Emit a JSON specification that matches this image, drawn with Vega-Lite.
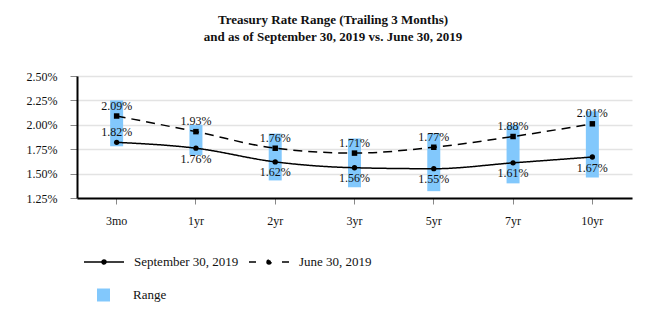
{
  "$schema": "https://vega.github.io/schema/vega-lite/v6.json",
  "autosize": "none",
  "width": 555,
  "height": 122,
  "padding": {"left": 77, "top": 76, "right": 34, "bottom": 135},
  "background": "white",
  "config": {
    "font": "Liberation Serif",
    "view": {"stroke": null},
    "axis": {"labelFont": "Liberation Serif", "labelFontSize": 12, "labelColor": "#111"},
    "legend": {"labelFont": "Liberation Serif", "labelFontSize": 13, "labelColor": "#111"}
  },
  "title": {
    "text": ["Treasury Rate Range (Trailing 3 Months)", "and as of September 30, 2019 vs. June 30, 2019"],
    "font": "Liberation Serif",
    "fontSize": 13,
    "fontWeight": "bold",
    "lineHeight": 17.5,
    "color": "#111",
    "anchor": "middle",
    "dx": -21.5,
    "offset": 26
  },
  "datasets": {
    "rates": [
      {"tenor": "3mo", "series": "September 30, 2019", "rate": 0.0182},
      {"tenor": "1yr", "series": "September 30, 2019", "rate": 0.0176},
      {"tenor": "2yr", "series": "September 30, 2019", "rate": 0.0162},
      {"tenor": "3yr", "series": "September 30, 2019", "rate": 0.0156},
      {"tenor": "5yr", "series": "September 30, 2019", "rate": 0.0155},
      {"tenor": "7yr", "series": "September 30, 2019", "rate": 0.0161},
      {"tenor": "10yr", "series": "September 30, 2019", "rate": 0.0167},
      {"tenor": "3mo", "series": "June 30, 2019", "rate": 0.0209},
      {"tenor": "1yr", "series": "June 30, 2019", "rate": 0.0193},
      {"tenor": "2yr", "series": "June 30, 2019", "rate": 0.0176},
      {"tenor": "3yr", "series": "June 30, 2019", "rate": 0.0171},
      {"tenor": "5yr", "series": "June 30, 2019", "rate": 0.0177},
      {"tenor": "7yr", "series": "June 30, 2019", "rate": 0.0188},
      {"tenor": "10yr", "series": "June 30, 2019", "rate": 0.0201}
    ],
    "range": [
      {"tenor": "3mo", "low": 0.0178, "high": 0.0225},
      {"tenor": "1yr", "low": 0.0169, "high": 0.0200},
      {"tenor": "2yr", "low": 0.0143, "high": 0.0191},
      {"tenor": "3yr", "low": 0.0136, "high": 0.0186},
      {"tenor": "5yr", "low": 0.0132, "high": 0.0191},
      {"tenor": "7yr", "low": 0.0140, "high": 0.0200},
      {"tenor": "10yr", "low": 0.0146, "high": 0.0214}
    ]
  },
  "encoding": {
    "x": {
      "field": "tenor",
      "type": "nominal",
      "scale": {"domain": ["3mo", "1yr", "2yr", "3yr", "5yr", "7yr", "10yr"], "paddingInner": 0, "paddingOuter": 0},
      "axis": {"title": null, "labelAngle": 0, "domainColor": "#000", "domainWidth": 2, "tickColor": "#888", "tickSize": 6, "labelPadding": 11, "grid": false}
    }
  },
  "layer": [
    {
      "data": {"name": "range"},
      "mark": {"type": "bar", "size": 13},
      "encoding": {
        "y": {
          "field": "low",
          "type": "quantitative",
          "scale": {"domain": [0.0125, 0.025], "nice": false, "zero": false},
          "axis": {"title": null, "values": [0.0125, 0.015, 0.0175, 0.02, 0.0225, 0.025], "tickCount": 12, "format": ".2%", "labelOverlap": false, "grid": true, "gridColor": "#e3e3e3", "gridWidth": 1.5, "domainColor": "#000", "domainWidth": 2, "tickColor": "#888", "tickSize": 7, "labelPadding": 13}
        },
        "y2": {"field": "high"},
        "color": {
          "datum": "Range",
          "scale": {"domain": ["Range"], "range": ["#82c8fc"]},
          "legend": {"title": null, "orient": "none", "legendX": 20, "legendY": 212.5, "padding": 0, "symbolType": "square", "symbolSize": 169, "symbolStrokeWidth": 0, "labelOffset": 23}
        }
      }
    },
    {
      "data": {"name": "rates"},
      "mark": {"type": "line", "interpolate": "monotone", "color": "#000", "strokeWidth": 1.5},
      "encoding": {
        "y": {"field": "rate", "type": "quantitative"},
        "strokeDash": {
          "field": "series",
          "type": "nominal",
          "scale": {"domain": ["September 30, 2019", "June 30, 2019"], "range": [[1, 0], [9, 6]]},
          "legend": {
            "title": null,
            "orient": "none",
            "direction": "horizontal",
            "legendX": 6,
            "legendY": 165,
            "padding": 0,
            "symbolType": "stroke",
            "symbolSize": 1600,
            "symbolStrokeWidth": 1.5,
            "symbolStrokeColor": "#000",
            "labelOffset": 9,
            "columnPadding": 7,
            "encode": {
              "symbols": {
                "update": {
                  "shape": {"signal": "datum.value === 'June 30, 2019' ? 'M-1,0H-0.65M0.65,0H1M0.1,0A0.1,0.1,0,1,1,-0.1,0A0.1,0.1,0,1,1,0.1,0Z' : 'M-1,0H1M0.1,0A0.1,0.1,0,1,1,-0.1,0A0.1,0.1,0,1,1,0.1,0Z'"},
                  "strokeDash": {"value": [1, 0]},
                  "stroke": {"value": "#000"},
                  "fill": {"value": "#000"},
                  "size": {"value": 1600}
                }
              }
            }
          }
        }
      }
    },
    {
      "data": {"name": "rates"},
      "transform": [{"filter": "datum.series === 'September 30, 2019'"}],
      "mark": {"type": "point", "filled": true, "shape": "circle", "color": "#000", "opacity": 1, "size": 28},
      "encoding": {
        "y": {"field": "rate", "type": "quantitative"}
      }
    },
    {
      "data": {"name": "rates"},
      "transform": [{"filter": "datum.series === 'June 30, 2019'"}],
      "mark": {"type": "point", "filled": true, "shape": "square", "color": "#000", "opacity": 1, "size": 30},
      "encoding": {
        "y": {"field": "rate", "type": "quantitative"}
      }
    },
    {
      "data": {"name": "rates"},
      "transform": [{"filter": "datum.series === 'June 30, 2019' || datum.tenor === '3mo'"}],
      "mark": {"type": "text", "dy": -10.5, "fontSize": 12, "font": "Liberation Serif", "color": "#111"},
      "encoding": {
        "y": {"field": "rate", "type": "quantitative"},
        "text": {"field": "rate", "type": "quantitative", "format": ".2%"}
      }
    },
    {
      "data": {"name": "rates"},
      "transform": [{"filter": "datum.series === 'September 30, 2019' && datum.tenor !== '3mo'"}],
      "mark": {"type": "text", "dy": 10.5, "fontSize": 12, "font": "Liberation Serif", "color": "#111"},
      "encoding": {
        "y": {"field": "rate", "type": "quantitative"},
        "text": {"field": "rate", "type": "quantitative", "format": ".2%"}
      }
    }
  ]
}
